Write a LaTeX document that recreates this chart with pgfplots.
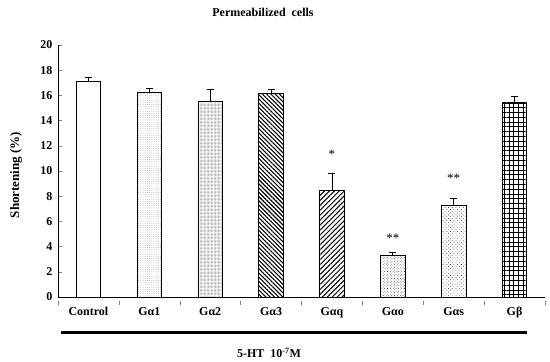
\documentclass[border=0pt]{standalone}
\usepackage{pgfplots}
\pgfplotsset{compat=1.18}
\usepackage{fontspec}
\setmainfont{Liberation Serif}
\usetikzlibrary{patterns.meta}
\begin{document}
\begin{tikzpicture}[x=1pt,y=1pt]
\path[use as bounding box] (0,0) rectangle (550,362);
\begin{axis}[
  at={(58pt,65pt)}, anchor=south west,
  scale only axis, width=487pt, height=252pt,
  xmin=-0.5, xmax=7.5, ymin=0, ymax=20,
  axis lines=left, axis line style={-, line width=0.6pt},
  ytick={0,2,...,20},
  xtick={0,...,7},
  xticklabels={Control,Gα1,Gα2,Gα3,Gαq,Gαo,Gαs,Gβ},
  major x tick style={draw=none},
  minor xtick={-0.5,0.5,...,7.5},
  minor x tick style={yshift=-4pt, line width=0.5pt},
  minor tick length=4pt,
  tick align=inside, major tick length=4pt,
  ytick style={line width=0.5pt},
  ticklabel style={font=\fontsize{12}{13}\selectfont\bfseries},
  /pgf/number format/assume math mode=true,
  xticklabel style={yshift=-3pt},
  yticklabel style={xshift=-2pt},
  ybar, bar width=24.5pt, bar shift=0pt,
  every axis plot/.append style={draw=black, line width=0.8pt},
  error bars/y dir=plus, error bars/y explicit,
  error bars/error mark options={rotate=90, mark size=3.5pt, line width=0.7pt},
  error bars/error bar style={line width=0.7pt},
  clip=false,
]
\addplot[fill=white] coordinates {(0,17.1) +- (0,0.35)};
\addplot[pattern={Dots[distance=2.2pt, radius=0.35pt]}, pattern color=gray] coordinates {(1,16.24) +- (0,0.3)};
\addplot[pattern={Dots[distance=1.4pt, radius=0.4pt]}, pattern color=gray] coordinates {(2,15.55) +- (0,0.92)};
\addplot[pattern={Lines[angle=-45, distance=3pt, line width=1.1pt]}] coordinates {(3,16.13) +- (0,0.35)};
\addplot[pattern={Lines[angle=45, distance=3.5pt, line width=1pt]}] coordinates {(4,8.46) +- (0,1.32)};
\addplot[pattern={Dots[angle=45, distance=2pt, radius=0.45pt]}, pattern color=darkgray] coordinates {(5,3.28) +- (0,0.3)};
\addplot[pattern={Dots[angle=45, distance=2.6pt, radius=0.5pt]}, pattern color=darkgray] coordinates {(6,7.3) +- (0,0.53)};
\addplot[pattern={Hatch[angle=0, distance=4.8pt, line width=0.6pt]}] coordinates {(7,15.4) +- (0,0.52)};
\node[font=\fontsize{13}{14}\selectfont] at (axis cs:4,11.3) {*};
\node[font=\fontsize{13}{14}\selectfont] at (axis cs:5,4.7) {**};
\node[font=\fontsize{13}{14}\selectfont] at (axis cs:6,9.4) {**};
\end{axis}
\node[font=\fontsize{12}{13}\selectfont\bfseries] at (263,350) {Permeabilized\ \ cells};
\node[font=\fontsize{13}{14}\selectfont\bfseries, rotate=90] at (16,187) {Shortening (\%)};
\draw[line width=2.6pt] (60.7,29.3) -- (527,29.3);
\node[font=\fontsize{12}{13}\selectfont\bfseries] at (269,9) {5-HT\ \ 10\textsuperscript{-7}M};
\end{tikzpicture}
\end{document}
